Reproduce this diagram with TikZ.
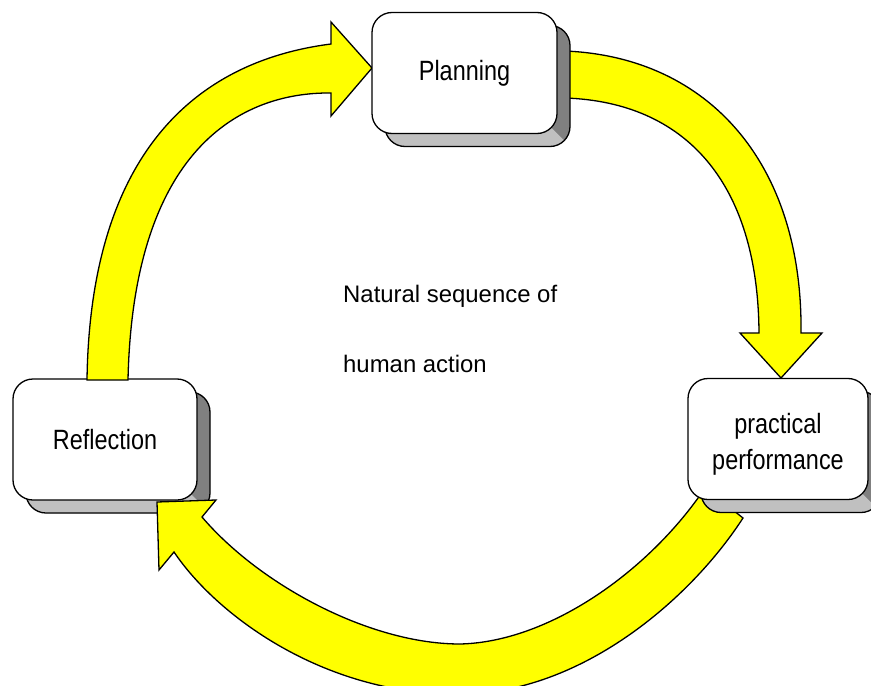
\documentclass[tikz,border=0pt]{standalone}
\usepackage{fontspec}
\setmainfont{Liberation Sans}
\usetikzlibrary{calc}

\definecolor{arrowyellow}{RGB}{255,255,0}
\definecolor{sidedark}{RGB}{128,128,128}
\definecolor{sidelight}{RGB}{192,192,192}

% box labels are set slightly condensed
\newcommand\narrowtext[1]{\scalebox{0.84}[1]{#1}}

\tikzset{
  outline/.style={draw=black, line width=1.3bp},
  stageface/.style={outline, fill=white, rounded corners=20bp,
    minimum height=121bp, inner sep=0pt},
  stagelabel/.style={inner sep=0pt, align=center,
    font=\fontsize{28}{36}\selectfont},
  stagedepth/.style={outline, fill=sidedark, rounded corners=20bp,
    minimum height=121bp, inner sep=0pt,
    path picture={\fill[sidelight, sharp corners]
      ([shift={(-2bp,19bp)}]path picture bounding box.south west) --
      ([shift={(-19bp,19bp)}]path picture bounding box.south east) --
      ([shift={(2bp,-2bp)}]path picture bounding box.south east) --
      ([shift={(-2bp,-2bp)}]path picture bounding box.south west) -- cycle;}},
  blockarrow/.style={outline, fill=arrowyellow, line join=miter},
  note/.style={anchor=base west, inner sep=0pt, font=\fontsize{24}{28}\selectfont},
}

% raised box: extruded side first, then the white face, then its label
% [#1 label options] #2 name, #3 x, #4 y, #5 width, #6 label
\newcommand\stage[6][]{%
  \node[stagedepth, minimum width=#5] (#2-depth) at ([shift={(13bp,-13bp)}]#3,#4) {};
  \node[stageface, minimum width=#5] (#2) at (#3,#4) {};
  \node[stagelabel, #1] (#2-text) at (#2.center) {#6};
}

\begin{document}
\begin{tikzpicture}[x=1bp, y=-1bp]
  \useasboundingbox (0,0) rectangle (871,686);
  \clip (0,0) rectangle (871,686);

  \stage{reflection}{105}{439.5}{184bp}{\narrowtext{Reflection}}

  % Reflection -> Planning
  \draw[blockarrow] (87,380)
    .. controls (90,160) and (190,62) .. (331,44)
    -- (331,22) -- (372,68) -- (331,116) -- (331,93)
    .. controls (240,92) and (133,150) .. (128,380)
    -- cycle;

  % Planning -> practical performance
  \draw[blockarrow] (555,51) -- (565,51)
    .. controls (710,57) and (803,165) .. (801,333)
    -- (822,333) -- (781,378) -- (740,333) -- (759,333)
    .. controls (758,182) and (685,102) .. (565,98)
    -- (555,98) -- cycle;

  % practical performance -> Reflection
  \draw[blockarrow] (705,488) -- (743,518)
    .. controls (690,600) and (580,694) .. (460,694)
    .. controls (330,696) and (220,620) .. (174,552)
    -- (159,570) -- (157,502) -- (216,500) -- (202,517)
    .. controls (260,585) and (370,644) .. (460,644)
    .. controls (550,642) and (650,570) .. (705,488)
    -- cycle;

  \stage{planning}{464.5}{73}{185bp}{\narrowtext{Planning}}
  \stage[yshift=-5bp]{practice}{778}{439}{180bp}{\narrowtext{practical}\\\narrowtext{performance}}

  \node[note] (note-top) at (343,302) {Natural sequence of};
  \node[note] (note-bottom) at (343,372) {human action};
\end{tikzpicture}
\end{document}
